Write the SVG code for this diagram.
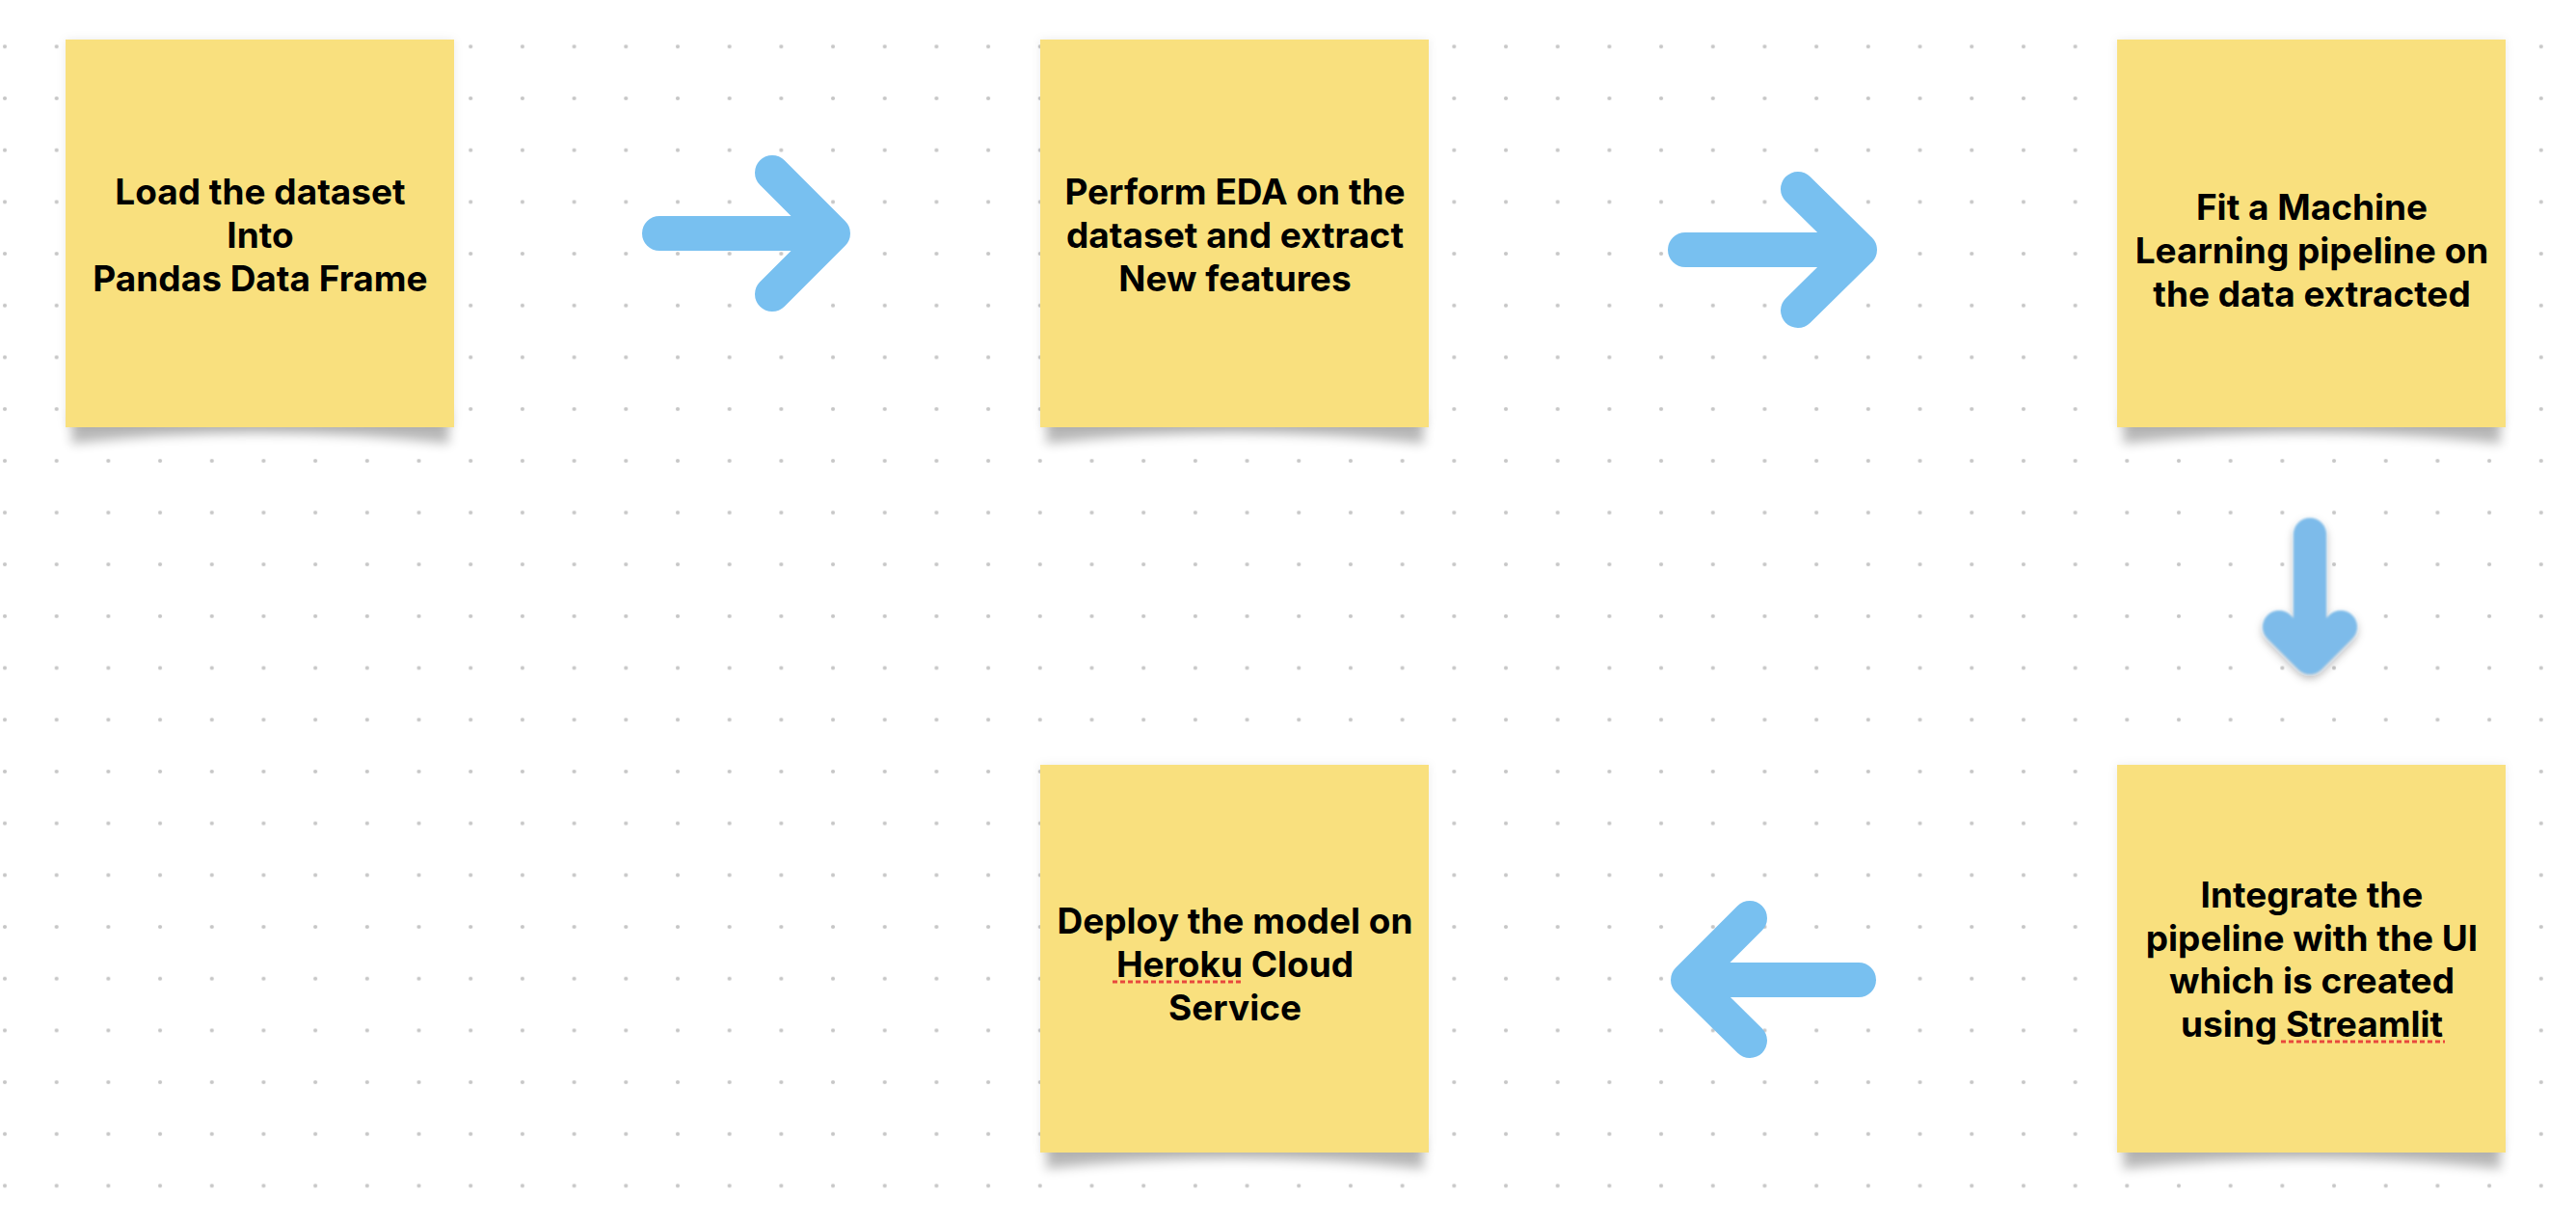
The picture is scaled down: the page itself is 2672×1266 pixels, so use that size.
<svg xmlns="http://www.w3.org/2000/svg" width="2672" height="1266" viewBox="0 0 2672 1266">
  <defs>
    <pattern id="dots" patternUnits="userSpaceOnUse" x="-21.85" y="21.45" width="53.69" height="53.69">
      <circle cx="26.845" cy="26.845" r="2.1" fill="#c6c6c6"/>
    </pattern>
    <filter id="blur" x="-20%" y="-50%" width="140%" height="200%">
      <feGaussianBlur stdDeviation="6"/>
    </filter>
    <filter id="soft" x="-10%" y="-10%" width="120%" height="120%">
      <feDropShadow dx="0" dy="0" stdDeviation="5" flood-color="#000" flood-opacity="0.08"/>
    </filter>
    <filter id="arrowShadow" x="-50%" y="-30%" width="200%" height="160%">
      <feGaussianBlur in="SourceGraphic" stdDeviation="0.8" result="b"/>
      <feDropShadow in="b" dx="0" dy="4" stdDeviation="4" flood-color="#000" flood-opacity="0.3"/>
    </filter>
  </defs>
  <style>
    .note { fill: #F9E07E; }
    .shadow { fill: #000; opacity: 0.28; }
    .label { font-family: Inter, "Liberation Sans", sans-serif; font-weight: 700; font-size: 37px; fill: #000; text-anchor: middle; }
    .arrow { fill: none; stroke: #78C0F0; stroke-width: 36; stroke-linecap: round; stroke-linejoin: round; }
    .spell { stroke: #E8483D; stroke-width: 3; stroke-dasharray: 5 3; fill: none; }
  </style>
  <rect width="2672" height="1266" fill="#ffffff"/>
  <rect width="2672" height="1266" fill="url(#dots)"/>

  <g id="connectors">
    <path class="arrow" d="M684,242 L864,242 M801,179 L864,242 L801,305"/>
    <path class="arrow" d="M1748,259 L1929,259 M1865,196 L1929,259 L1865,322"/>
    <path class="arrow" style="stroke:#7DBBEA;stroke-width:34" filter="url(#arrowShadow)" d="M2396,554 L2396,682 M2364,650 L2396,682 L2428,650"/>
    <path class="arrow" d="M1928,1016 L1751,1016 M1815,952 L1751,1016 L1815,1079"/>
  </g>

  <g id="node-load">
    <path class="shadow" filter="url(#blur)" d="M76,425 L464,425 L466,460 Q270,438 74,460 Z"/>
    <rect class="note" filter="url(#soft)" x="68" y="41" width="403" height="402"/>
    <text class="label" x="270" y="212">Load the dataset</text>
    <text class="label" x="270" y="257">Into</text>
    <text class="label" x="270" y="302">Pandas Data Frame</text>
  </g>

  <g id="node-eda">
    <path class="shadow" filter="url(#blur)" d="M1087,425 L1475,425 L1477,460 Q1281,438 1085,460 Z"/>
    <rect class="note" filter="url(#soft)" x="1079" y="41" width="403" height="402"/>
    <text class="label" x="1281" y="212">Perform EDA on the</text>
    <text class="label" x="1281" y="257">dataset and extract</text>
    <text class="label" x="1281" y="302">New features</text>
  </g>

  <g id="node-fit">
    <path class="shadow" filter="url(#blur)" d="M2204,425 L2592,425 L2594,460 Q2398,438 2202,460 Z"/>
    <rect class="note" filter="url(#soft)" x="2196" y="41" width="403" height="402"/>
    <text class="label" x="2398" y="228">Fit a Machine</text>
    <text class="label" x="2398" y="273">Learning pipeline on</text>
    <text class="label" x="2398" y="318">the data extracted</text>
  </g>

  <g id="node-integrate">
    <path class="shadow" filter="url(#blur)" d="M2204,1177 L2592,1177 L2594,1212 Q2398,1190 2202,1212 Z"/>
    <rect class="note" filter="url(#soft)" x="2196" y="793" width="403" height="402"/>
    <text class="label" x="2398" y="941">Integrate the</text>
    <text class="label" x="2398" y="986">pipeline with the UI</text>
    <text class="label" x="2398" y="1030">which is created</text>
    <text class="label" x="2398" y="1075">using Streamlit</text>
    <line class="spell" x1="2366" y1="1080" x2="2536" y2="1080"/>
  </g>

  <g id="node-deploy">
    <path class="shadow" filter="url(#blur)" d="M1087,1177 L1475,1177 L1477,1212 Q1281,1190 1085,1212 Z"/>
    <rect class="note" filter="url(#soft)" x="1079" y="793" width="403" height="402"/>
    <text class="label" x="1281" y="968">Deploy the model on</text>
    <text class="label" x="1281" y="1013">Heroku Cloud</text>
    <text class="label" x="1281" y="1058">Service</text>
    <line class="spell" x1="1154" y1="1018" x2="1288" y2="1018"/>
  </g>
</svg>
